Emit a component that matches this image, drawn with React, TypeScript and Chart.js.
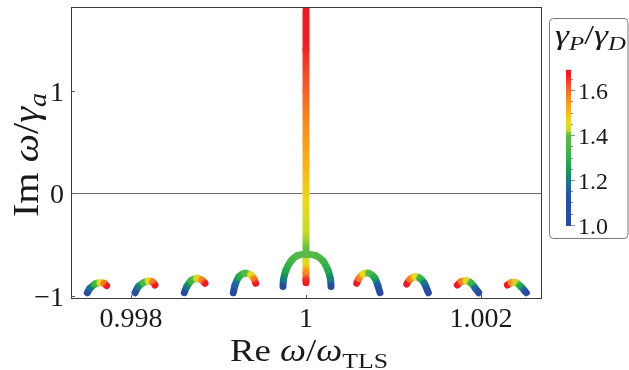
import React, { useEffect, useRef } from 'react';
import { Chart, registerables } from 'chart.js';

Chart.register(...registerables);

// Each branch: [Re ω/ω_TLS, Im ω/γa, γP/γD]
const branchL1 = [[0.997501, -0.97, 1.0], [0.997531, -0.927, 1.18], [0.997589, -0.885, 1.33], [0.997646, -0.872, 1.45], [0.997691, -0.878, 1.58], [0.997722, -0.901, 1.7]];
const branchL2 = [[0.998046, -0.97, 1.0], [0.998083, -0.911, 1.2], [0.998141, -0.872, 1.35], [0.998198, -0.856, 1.46], [0.998248, -0.865, 1.58], [0.998274, -0.895, 1.7]];
const branchL3 = [[0.998609, -0.97, 1.0], [0.998637, -0.911, 1.2], [0.998686, -0.853, 1.33], [0.998751, -0.829, 1.44], [0.998808, -0.846, 1.57], [0.998846, -0.878, 1.7]];
const branchL4 = [[0.999169, -0.97, 1.0], [0.999189, -0.895, 1.15], [0.999234, -0.814, 1.28], [0.999303, -0.78, 1.37], [0.999371, -0.797, 1.46], [0.999409, -0.839, 1.58], [0.999425, -0.878, 1.7]];
const branchCL = [[0.999737, -0.91, 1.0], [0.999743, -0.84, 1.2], [0.999771, -0.75, 1.28], [0.999829, -0.66, 1.33], [0.999903, -0.607, 1.37], [1.0, -0.592, 1.4]];
const branchCR = [[1.000286, -0.91, 1.0], [1.00028, -0.84, 1.2], [1.000251, -0.75, 1.28], [1.000194, -0.66, 1.33], [1.000109, -0.607, 1.37], [1.0, -0.592, 1.4]];
const branchUp = [[1.0, -0.592, 1.4], [1.0, -0.3, 1.43], [1.0, 0, 1.47], [1.0, 0.5, 1.54], [1.0, 1.0, 1.61], [1.0, 1.4, 1.66], [1.0, 1.79, 1.7]];
const branchDown = [[1.0, -0.592, 1.4], [1.0, -0.67, 1.44], [1.0, -0.77, 1.56], [1.0, -0.846, 1.65], [1.0, -0.872, 1.7]];
const branchR1 = [[1.000579, -0.878, 1.7], [1.000606, -0.829, 1.58], [1.000655, -0.787, 1.46], [1.00072, -0.78, 1.37], [1.000781, -0.82, 1.28], [1.000819, -0.895, 1.15], [1.000846, -0.97, 1.0]];
const branchR2 = [[1.001151, -0.885, 1.7], [1.001189, -0.839, 1.58], [1.001246, -0.814, 1.46], [1.001303, -0.829, 1.33], [1.001352, -0.878, 1.2], [1.001398, -0.97, 1.0]];
const branchR3 = [[1.001729, -0.895, 1.7], [1.001775, -0.862, 1.58], [1.001832, -0.853, 1.45], [1.001889, -0.878, 1.33], [1.001935, -0.927, 1.18], [1.001974, -0.97, 1.0]];
const branchR4 = [[1.002301, -0.895, 1.7], [1.002346, -0.872, 1.55], [1.002403, -0.872, 1.42], [1.002454, -0.91, 1.28], [1.002518, -0.97, 1.0]];

const branches = [branchL1, branchL2, branchL3, branchL4, branchCL, branchCR, branchUp, branchDown, branchR1, branchR2, branchR3, branchR4];

const xRange = [0.9973143, 1.0026971];
const yRange = [-1.031, 1.8176];
const xTicks = [0.998, 1, 1.002];
const xTickLabels = ['0.998', '1', '1.002'];
const yTicks = [-1, 0, 1];
const yTickLabels = ['\u22121', '0', '1'];
const cbRange = [1.0, 1.69];
const cbTicks = [1.0, 1.2, 1.4, 1.6];
const cbTickLabels = ['1.0', '1.2', '1.4', '1.6'];
const cbMinorTicks = [1.05, 1.1, 1.15, 1.25, 1.3, 1.35, 1.45, 1.5, 1.55, 1.65];

// colour map stops (γP/γD -> colour)
const cmapStops: [number, string][] = [
  [1.0, '#2b4c9b'],
  [1.12, '#2450a3'],
  [1.18, '#1d6aa0'],
  [1.23, '#13905a'],
  [1.29, '#29ad4a'],
  [1.35, '#4cb748'],
  [1.405, '#5bbb47'],
  [1.42, '#c5d92e'],
  [1.46, '#e9d923'],
  [1.5, '#f8b71c'],
  [1.56, '#f6901f'],
  [1.62, '#f15a29'],
  [1.67, '#ed1c24'],
  [1.7, '#ec1c24'],
];

const FONT = '"Liberation Serif","Times New Roman",serif';

function hexToRgb(h: string) {
  const n = parseInt(h.slice(1), 16);
  return [(n >> 16) & 255, (n >> 8) & 255, n & 255];
}
function colorAt(g: number) {
  if (g <= cmapStops[0][0]) return cmapStops[0][1];
  for (let i = 1; i < cmapStops.length; i++) {
    if (g <= cmapStops[i][0]) {
      const [g0, c0] = cmapStops[i - 1];
      const [g1, c1] = cmapStops[i];
      const t = (g - g0) / (g1 - g0);
      const a = hexToRgb(c0), b = hexToRgb(c1);
      const r = a.map((v, k) => Math.round(v + (b[k] - v) * t));
      return `rgb(${r[0]},${r[1]},${r[2]})`;
    }
  }
  return cmapStops[cmapStops.length - 1][1];
}

type Run = { t: string; it?: boolean; sub?: boolean };

function runsWidth(ctx: CanvasRenderingContext2D, runs: Run[], size: number) {
  let w = 0;
  for (const r of runs) {
    const s = r.sub ? size * 0.7 : size;
    ctx.font = `${r.it ? 'italic ' : ''}${s}px ${FONT}`;
    w += ctx.measureText(r.t).width;
  }
  return w;
}

function drawRuns(ctx: CanvasRenderingContext2D, runs: Run[], size: number, x: number, y: number, targetW: number, rotate = false) {
  const w = runsWidth(ctx, runs, size);
  const sx = targetW / w;
  ctx.save();
  ctx.translate(x, y);
  if (rotate) ctx.rotate(-Math.PI / 2);
  ctx.scale(sx, 1);
  ctx.textAlign = 'left';
  ctx.textBaseline = 'alphabetic';
  ctx.fillStyle = '#1a1a1a';
  let cx = -w / 2;
  for (const r of runs) {
    const s = r.sub ? size * 0.7 : size;
    ctx.font = `${r.it ? 'italic ' : ''}${s}px ${FONT}`;
    ctx.fillText(r.t, cx, r.sub ? size * 0.22 : 0);
    cx += ctx.measureText(r.t).width;
  }
  ctx.restore();
}

const decorPlugin = {
  id: 'decor',
  beforeDatasetsDraw(chart: any) {
    const { ctx, chartArea: a, scales } = chart;
    const y0 = Math.round(scales.y.getPixelForValue(0)) + 0.5;
    ctx.save();
    ctx.strokeStyle = '#707070';
    ctx.lineWidth = 1;
    ctx.beginPath();
    ctx.moveTo(a.left, y0);
    ctx.lineTo(a.right, y0);
    ctx.stroke();
    ctx.restore();
  },
  afterDatasetsDraw(chart: any) {
    const { ctx, chartArea: a, scales } = chart;
    ctx.save();
    ctx.strokeStyle = '#3a3a3a';
    ctx.lineWidth = 1;
    ctx.strokeRect(a.left + 0.5, a.top + 0.5, a.right - a.left - 1, a.bottom - a.top - 1);
    // inward ticks
    ctx.strokeStyle = '#555';
    ctx.beginPath();
    xTicks.forEach((v) => {
      const px = Math.round(scales.x.getPixelForValue(v)) + 0.5;
      ctx.moveTo(px, a.bottom);
      ctx.lineTo(px, a.bottom - 4);
    });
    yTicks.forEach((v) => {
      const py = Math.round(scales.y.getPixelForValue(v)) + 0.5;
      ctx.moveTo(a.left, py);
      ctx.lineTo(a.left + 4, py);
    });
    ctx.stroke();

    // tick labels
    ctx.fillStyle = '#1a1a1a';
    ctx.font = `28px ${FONT}`;
    ctx.textBaseline = 'alphabetic';
    ctx.textAlign = 'center';
    xTicks.forEach((v, i) => {
      const px = scales.x.getPixelForValue(v);
      ctx.fillText(xTickLabels[i], px, 327);
    });
    ctx.textAlign = 'right';
    yTicks.forEach((v, i) => {
      const py = scales.y.getPixelForValue(v);
      ctx.fillText(yTickLabels[i], 64, py + 10);
    });
    ctx.restore();

    // axis titles
    drawRuns(ctx, [{ t: 'Re ' }, { t: 'ω', it: true }, { t: '/' }, { t: 'ω', it: true }, { t: 'TLS', sub: true }], 31, 309, 361, 158);
    drawRuns(ctx, [{ t: 'Im ' }, { t: 'ω', it: true }, { t: '/' }, { t: 'γ', it: true }, { t: 'a', it: true, sub: true }], 35, 38, 155, 124, true);

    // colour bar legend
    ctx.save();
    const bx = 549.5, by = 18.5, bw = 78.5, bh = 220, rr = 4;
    ctx.beginPath();
    ctx.moveTo(bx + rr, by);
    ctx.lineTo(bx + bw - rr, by);
    ctx.arcTo(bx + bw, by, bx + bw, by + rr, rr);
    ctx.lineTo(bx + bw, by + bh - rr);
    ctx.arcTo(bx + bw, by + bh, bx + bw - rr, by + bh, rr);
    ctx.lineTo(bx + rr, by + bh);
    ctx.arcTo(bx, by + bh, bx, by + bh - rr, rr);
    ctx.lineTo(bx, by + rr);
    ctx.arcTo(bx, by, bx + rr, by, rr);
    ctx.closePath();
    ctx.fillStyle = '#ffffff';
    ctx.fill();
    ctx.strokeStyle = '#7a7a7a';
    ctx.lineWidth = 1;
    ctx.stroke();

    const cbY = (g: number) => 225 - (g - 1.0) * 225;
    const yTop = cbY(cbRange[1]), yBot = cbY(cbRange[0]) + 1;
    const grad = ctx.createLinearGradient(0, yBot, 0, yTop);
    const nSteps = 69;
    for (let k = 0; k <= nSteps; k++) {
      const t = k / nSteps;
      grad.addColorStop(Math.min(1, Math.max(0, t)), colorAt(cbRange[0] + (cbRange[1] - cbRange[0]) * t));
    }
    ctx.fillStyle = grad;
    ctx.fillRect(566, yTop, 5, yBot - yTop);
    ctx.strokeStyle = '#8a8a8a';
    ctx.beginPath();
    cbTicks.forEach((g) => {
      const py = Math.round(cbY(g)) + 0.5;
      ctx.moveTo(571, py);
      ctx.lineTo(575, py);
    });
    cbMinorTicks.forEach((g) => {
      const py = Math.round(cbY(g)) + 0.5;
      ctx.moveTo(571, py);
      ctx.lineTo(573, py);
    });
    ctx.stroke();
    ctx.fillStyle = '#1a1a1a';
    ctx.font = `24px ${FONT}`;
    ctx.textAlign = 'left';
    ctx.textBaseline = 'alphabetic';
    cbTicks.forEach((g, i) => {
      ctx.fillText(cbTickLabels[i], 578, cbY(g) + 9);
    });
    ctx.restore();
    drawRuns(ctx, [{ t: 'γ', it: true }, { t: 'P', it: true, sub: true }, { t: '/' }, { t: 'γ', it: true }, { t: 'D', it: true, sub: true }], 27, 590.5, 44, 71);
  },
};

export default function App() {
  const ref = useRef<HTMLCanvasElement>(null);
  useEffect(() => {
    if (!ref.current) return;
    const chart = new Chart(ref.current, {
      type: 'scatter',
      data: {
        datasets: branches.map((b) => ({
          data: b.map((p) => ({ x: p[0], y: p[1] })),
          showLine: true,
          borderWidth: 7,
          borderCapStyle: 'round',
          borderJoinStyle: 'round',
          pointRadius: 0,
          pointHoverRadius: 0,
          tension: 0.35,
          borderColor: colorAt(b[0][2]),
          segment: {
            borderColor: (c: any) => {
              const g0 = b[c.p0DataIndex][2];
              const g1 = b[c.p1DataIndex][2];
              const cx = c.chart.ctx as CanvasRenderingContext2D;
              let x1 = c.p1.x, y1 = c.p1.y;
              if (Math.abs(x1 - c.p0.x) < 0.01 && Math.abs(y1 - c.p0.y) < 0.01) y1 += 0.01;
              const gr = cx.createLinearGradient(c.p0.x, c.p0.y, x1, y1);
              for (let k = 0; k <= 4; k++) {
                const t = k / 4;
                gr.addColorStop(t, colorAt(g0 + (g1 - g0) * t));
              }
              return gr;
            },
          },
        })),
      },
      options: {
        responsive: false,
        animation: false,
        events: [],
        layout: { padding: { left: 71, right: 87, top: 7, bottom: 71 } },
        plugins: { legend: { display: false }, tooltip: { enabled: false }, title: { display: false } },
        scales: {
          x: { type: 'linear', display: false, min: xRange[0], max: xRange[1] },
          y: { type: 'linear', display: false, min: yRange[0], max: yRange[1] },
        },
      },
      plugins: [decorPlugin],
    } as any);
    return () => chart.destroy();
  }, []);
  return (
    <div style={{ position: 'fixed', left: 0, top: 0, width: 629, height: 370, background: '#fff' }}>
      <canvas ref={ref} width={629} height={370} style={{ display: 'block' }} />
    </div>
  );
}
